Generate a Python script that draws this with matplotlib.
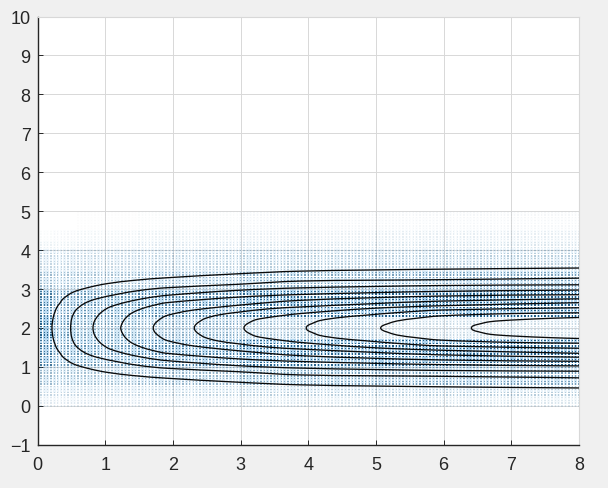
import numpy as np
import matplotlib
matplotlib.use("Agg")
import matplotlib.pyplot as plt
from matplotlib.path import Path
from matplotlib.patches import PathPatch

# half height of each contour around the centre line
center_y = 2
contour_x = [
    [0.214, 0.234, 0.283, 0.332, 0.38, 0.53, 0.775, 1.02, 1.415, 1.91, 2.94, 3.88, 5.94, 8.0],
    [0.49, 0.505, 0.554, 0.628, 0.727, 0.874, 1.17, 1.514, 1.908, 2.94, 3.88, 5.94, 8.0],
    [0.82, 0.84, 0.90, 0.97, 1.07, 1.317, 1.613, 1.908, 2.94, 3.88, 5.94, 8.0],
    [1.23, 1.25, 1.30, 1.38, 1.514, 1.71, 1.908, 2.94, 3.88, 5.94, 8.0],
    [1.71, 1.73, 1.79, 1.88, 2.05, 2.3, 2.94, 3.88, 5.94, 8.0],
    [2.316, 2.335, 2.39, 2.47, 2.66, 2.94, 3.4, 3.88, 4.9, 5.94, 8.0],
    [3.05, 3.07, 3.12, 3.22, 3.45, 3.88, 4.9, 5.94, 8.0],
    [3.97, 3.99, 4.05, 4.17, 4.47, 4.86, 5.35, 5.94, 8.0],
    [5.07, 5.09, 5.16, 5.31, 5.6, 5.94, 7.0, 8.0],
    [6.41, 6.43, 6.50, 6.68, 7.02, 7.61, 8.0],
]
contour_h = [
    [0.0, 0.282, 0.52, 0.64, 0.752, 0.923, 1.05, 1.137, 1.222, 1.29, 1.39, 1.46, 1.51, 1.54],
    [0.0, 0.24, 0.43, 0.555, 0.66, 0.75, 0.863, 0.966, 1.034, 1.12, 1.205, 1.24, 1.28],
    [0.0, 0.17, 0.33, 0.44, 0.54, 0.667, 0.77, 0.838, 0.966, 1.03, 1.09, 1.11],
    [0.0, 0.12, 0.25, 0.37, 0.48, 0.58, 0.65, 0.79, 0.86, 0.94, 0.974],
    [0.0, 0.10, 0.20, 0.30, 0.38, 0.46, 0.58, 0.71, 0.82, 0.855],
    [0.0, 0.08, 0.16, 0.24, 0.33, 0.40, 0.49, 0.54, 0.62, 0.69, 0.75],
    [0.0, 0.07, 0.13, 0.21, 0.28, 0.37, 0.50, 0.57, 0.65],
    [0.0, 0.06, 0.11, 0.19, 0.27, 0.33, 0.40, 0.46, 0.52],
    [0.0, 0.05, 0.10, 0.18, 0.25, 0.31, 0.37, 0.39],
    [0.0, 0.05, 0.09, 0.16, 0.205, 0.25, 0.27],
]

# strength of the arrow field by band (rows: y bands, cols: x bands)
band_x = [0.0, 0.25, 0.6, 1.5, 3.0, 5.0, 8.01]
band_y = [0.0, 0.25, 0.5, 1.0, 1.75, 2.25, 3.0, 3.5, 4.0, 4.25, 4.5, 5.0]
band_alpha = [
    [0.10, 0.10, 0.10, 0.10, 0.12, 0.12],
    [0.20, 0.20, 0.20, 0.22, 0.25, 0.25],
    [0.36, 0.32, 0.32, 0.38, 0.48, 0.50],
    [0.75, 0.55, 0.58, 0.70, 0.88, 0.95],
    [0.90, 0.58, 0.48, 0.42, 0.32, 0.18],
    [0.75, 0.55, 0.58, 0.70, 0.88, 0.95],
    [0.36, 0.32, 0.32, 0.38, 0.48, 0.50],
    [0.20, 0.20, 0.20, 0.22, 0.25, 0.25],
    [0.06, 0.06, 0.08, 0.10, 0.12, 0.12],
    [0.02, 0.03, 0.04, 0.06, 0.07, 0.08],
    [0.00, 0.00, 0.01, 0.02, 0.03, 0.03],
]

xgrid = np.arange(0, 8.01, 0.05)
ygrid = np.arange(0, 5.0, 0.07)
xx, yy = np.meshgrid(xgrid, ygrid)
ix = np.clip(np.searchsorted(band_x, xx.ravel(), side="right") - 1, 0, len(band_x) - 2)
iy = np.clip(np.searchsorted(band_y, yy.ravel(), side="right") - 1, 0, len(band_y) - 2)
alpha = np.array(band_alpha)[iy, ix]


def smooth_path(xs, ys, sx, sy):
    """Bezier path through the read points, handles set in pixel scale."""
    pts = np.column_stack([xs * sx, ys * sy])
    tang = np.zeros_like(pts)
    tang[1:-1] = pts[2:] - pts[:-2]
    tang[0] = pts[1] - pts[0]
    tang[-1] = pts[-1] - pts[-2]
    tang = tang / np.linalg.norm(tang, axis=1, keepdims=True)
    verts = [pts[0]]
    codes = [Path.MOVETO]
    for i in range(len(pts) - 1):
        d = np.linalg.norm(pts[i + 1] - pts[i]) / 3
        verts += [pts[i] + tang[i] * d, pts[i + 1] - tang[i + 1] * d, pts[i + 1]]
        codes += [Path.CURVE4, Path.CURVE4, Path.CURVE4]
    verts = np.array(verts) / [sx, sy]
    return Path(verts, codes)


fig = plt.figure(figsize=(6.08, 4.89), dpi=100, facecolor="#f0f0f0")
ax = fig.add_axes([37.5 / 608, 1 - 445.8 / 489, (579 - 37.5) / 608, (445.8 - 17.5) / 489])

# soft tint first, then the small dark dots on top
tint = np.zeros((alpha.size, 4))
tint[:, 0] = 0.25
tint[:, 1] = 0.6
tint[:, 2] = 0.85
tint[:, 3] = alpha * 0.45
ax.scatter(xx.ravel(), yy.ravel(), s=3.2, marker="s", c=tint, linewidths=0, zorder=2)
dots = np.zeros((alpha.size, 4))
dots[:, 1] = 0.25
dots[:, 2] = 0.42
dots[:, 3] = alpha * 0.85
ax.scatter(xx.ravel(), yy.ravel(), s=0.9, marker="s", c=dots, linewidths=0, zorder=2)

for cx, ch in zip(contour_x, contour_h):
    cx = np.array(cx)
    ch = np.array(ch)
    xs = np.concatenate([cx[::-1], cx[1:]])
    ys = np.concatenate([center_y + ch[::-1], center_y - ch[1:]])
    ax.add_patch(PathPatch(smooth_path(xs, ys, 67.7, 38.9), fill=False, edgecolor="#0a0a0a",
                           lw=0.95, zorder=3))

ax.set_xlim(0, 8)
ax.set_ylim(-1, 10)
ax.set_xticks(range(0, 9))
ax.set_yticks(range(-1, 11))
ax.grid(True, color="#d8d8d8", lw=0.7, zorder=1)
ax.set_axisbelow(True)
ax.tick_params(direction="in", length=3.6, width=0.7, color="#262626", labelcolor="#262626",
               labelsize=13, top=False, right=False)
ax.tick_params(axis="x", pad=8)
ax.tick_params(axis="y", pad=5)
for lab in ax.get_xticklabels() + ax.get_yticklabels():
    lab.set_family("Liberation Sans")
ax.spines["left"].set_color("#262626")
ax.spines["bottom"].set_color("#262626")
ax.spines["left"].set_linewidth(1.0)
ax.spines["bottom"].set_linewidth(1.0)
ax.spines["top"].set_color("#d8d8d8")
ax.spines["right"].set_color("#d8d8d8")

fig.savefig("out.png", dpi=100, facecolor=fig.get_facecolor())
